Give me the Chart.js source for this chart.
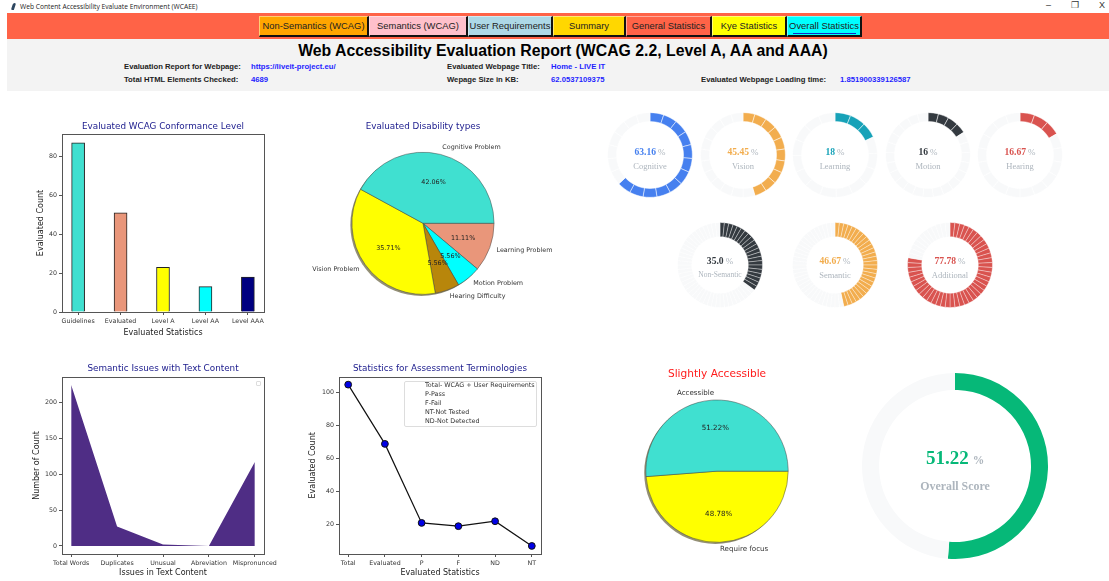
<!DOCTYPE html>
<html>
<head>
<meta charset="utf-8">
<title>Web Accessibility Evaluation Report</title>
<script src="https://cdn.jsdelivr.net/npm/chart.js@4/dist/chart.umd.min.js"></script>
<style>
    html, body { margin: 0; padding: 0; background: #fff; overflow: hidden; }
    #page { position: relative; width: 1109px; height: 581px; overflow: hidden; font-family: "Liberation Sans", Arial, sans-serif; }
    #page > * { position: absolute; }
    canvas { position: absolute; }

    .winTitle { left: 20px; top: 2px; font: 6.7px/10px "Open Sans", "Noto Sans", sans-serif; color: #222; white-space: nowrap; }
    .winIcon { left: 12px; top: 3px; width: 3px; height: 7px; background: #2d4660; border-radius: 2px 2px 0 2px; transform: skewX(-18deg); }
    .winBtn { top: 0; font: 9px/11px "Liberation Sans", sans-serif; color: #333; }

    #topbar { left: 7px; top: 13px; width: 1102px; height: 26px; background: #ff6347; }
    #infoBand { left: 7px; top: 39px; width: 1102px; height: 52px; background: #f3f3f3; }
    .navBtn { top: 16px; height: 17px; padding-top: 1px; box-sizing: content-box; font-size: 9.4px; line-height: 16px; color: #222; text-align: center; white-space: nowrap;
        border-style: solid; border-width: 1px 2px 2px 1px; border-color: rgba(255,255,255,.45) #111 #111 rgba(255,255,255,.45); }
    #mainTitle { left: 7px; width: 1112px; top: 41px; font-weight: bold; font-size: 15.8px; line-height: 20px; text-align: center; color: #000; white-space: nowrap; }
    .infoLabel, .infoValue { font-weight: bold; line-height: 10px; white-space: nowrap; }
    .infoLabel { color: #222; font-size: 7.7px; }
    .infoValue { color: #1f1fff; font-size: 7.7px; }

    .ringText { width: 90px; text-align: center; font-family: "Liberation Serif", serif; white-space: nowrap; }
    .ringText b { font-size: 9.6px; }
    .ringText .pct { font-size: 9px; color: #adb5bd; margin-left: 2px; }
    .ringText .lbl { font-size: 8.5px; color: #adb5bd; display: block; margin-top: 3.6px; line-height: 10px; }
    .ringText div { line-height: 10px; }

    #lineLegend { left: 404px; top: 381px; width: 133px; height: 46px; box-sizing: border-box; border: 1px solid #ddd; border-radius: 2px; background: #fff;
        padding: 0 0 0 20px; font: 6.4px/9px "DejaVu Sans", sans-serif; color: #333; z-index: 3; white-space: nowrap; }
    #lineLegend div { margin-top: -1px; }
    #areaLegend { left: 256px; top: 381px; width: 5px; height: 5px; box-sizing: border-box; border: 1px solid #ddd; border-radius: 1px; z-index: 3; }
</style>
</head>
<body>
<div id="page"></div>
<script>
// ---- report data ----
const navNames = ['Non-Semantics (WCAG)', 'Semantics (WCAG)', 'User Requirements', 'Summary', 'General Statistics', 'Kye Statistics', 'Overall Statistics'];
const navColors = ['#ffa500', '#ffc0cb', '#add8e6', '#ffd700', '#ff6347', '#ffff00', '#00ffff'];
const navEdges = [259, 369, 468, 553, 626, 712, 787, 862];

const levelNames = ['Guidelines', 'Evaluated', 'Level A', 'Level AA', 'Level AAA'];
const levelCounts = [87, 51, 23, 13, 18];
const levelColors = ['#40e0d0', '#e9967a', '#ffff00', '#00ffff', '#000080'];

const disabilityNames = ['Learning Problem', 'Motion Problem', 'Hearing Difficulty', 'Vision Problem', 'Cognitive Problem'];
const disabilityShares = [11.11, 5.56, 5.56, 35.71, 42.06];
const disabilityColors = ['#e9967a', '#00ffff', '#b8860b', '#ffff00', '#40e0d0'];

const textIssueNames = ['Total Words', 'Duplicates', 'Unusual', 'Abreviation', 'Mispronunced'];
const textIssueCounts = [224, 27, 2, 0, 117];

const termNames = ['Total', 'Evaluated', 'P', 'F', 'ND', 'NT'];
const termCounts = [105, 69, 21, 19, 22, 7];
const termLegend = ['Total- WCAG + User Requirements', 'P-Pass', 'F-Fail', 'NT-Not Tested', 'ND-Not Detected'];

const scoreNames = ['Require focus', 'Accessible'];
const scoreShares = [48.78, 51.22];
const scoreColors = ['#ffff00', '#40e0d0'];

const ringNames = ['Cognitive', 'Vision', 'Learning', 'Motion', 'Hearing', 'Non-Semantic', 'Semantic', 'Additional'];
const ringScores = ['63.16', '45.45', '18', '16', '16.67', '35.0', '46.67', '77.78'];
const ringFilled = [12, 10, 3, 4, 3, 21, 28, 42];
const ringSegments = [19, 22, 16, 25, 18, 60, 60, 54];
const ringColors = ['#4680ef', '#f2ad4e', '#17a2b8', '#343a40', '#d9534f', '#343a40', '#f2ad4e', '#d9534f'];
const ringCentersX = [650, 743, 835, 928, 1020, 720, 835, 950];
const ringCentersY = [155, 155, 155, 155, 155, 265, 265, 265];
const ringCutouts = [33.5, 33.5, 33.5, 33.5, 33.5, 28.3, 28.3, 28.3];
const ringGaps = [0.5, 0.5, 0.5, 0.5, 0.5, 0.35, 0.35, 0.35];

const overallScore = 51.22;

// ---- small dom helpers ----
const page = document.getElementById('page');

function addEl(cls, left, top, html) {
    const el = document.createElement('div');
    el.className = cls;
    if (left !== null) el.style.left = left + 'px';
    if (top !== null) el.style.top = top + 'px';
    el.innerHTML = html;
    page.appendChild(el);
    return el;
}

function addCanvas(left, top, w, h) {
    const c = document.createElement('canvas');
    c.width = w;
    c.height = h;
    c.style.cssText = `left:${left}px;top:${top}px;width:${w}px;height:${h}px`;
    page.appendChild(c);
    return c;
}

// ---- header ----
addEl('winIcon', null, null, '');
addEl('winTitle', null, null, 'Web Content Accessibility Evaluate Environment (WCAEE)');
addEl('winBtn', 1046, 0, '&ndash;');
addEl('winBtn', 1071, 0, '&#10064;');
addEl('winBtn', 1099, 0, 'X');

page.insertAdjacentHTML('beforeend', '<div id="topbar"></div><div id="infoBand"></div>');
navNames.forEach((name, i) => {
    const el = addEl('navBtn', navEdges[i], null, name);
    el.style.width = (navEdges[i + 1] - navEdges[i] - 3) + 'px';
    el.style.background = navColors[i];
});
const focusLine = addEl('', 793, 33, '');
focusLine.style.cssText += 'width:63px;height:1px;background:#1428c8';

page.insertAdjacentHTML('beforeend', '<div id="mainTitle">Web Accessibility Evaluation Report (WCAG 2.2, Level A, AA and AAA)</div>');
addEl('infoLabel', 124, 62, 'Evaluation Report for Webpage:');
addEl('infoValue', 251, 62, 'https://liveit-project.eu/');
addEl('infoLabel', 447, 62, 'Evaluated Webpage Title:');
addEl('infoValue', 551, 62, 'Home - LIVE IT');
addEl('infoLabel', 124, 75, 'Total HTML Elements Checked:');
addEl('infoValue', 251, 75, '4689');
addEl('infoLabel', 447, 75, 'Wepage Size in KB:');
addEl('infoValue', 551, 75, '62.0537109375');
addEl('infoLabel', 701, 75, 'Evaluated Webpage Loading time:');
addEl('infoValue', 840, 75, '1.851900339126587');

// ---- shared chart bits ----
const plotFont = '"DejaVu Sans", sans-serif';
const edgeColor = '#555';
const tickColor = '#333';

Chart.defaults.animation = false;
Chart.defaults.responsive = false;
Chart.defaults.font.family = plotFont;

// closes the plot box on all four sides
const boxFrame = {
    id: 'boxFrame',
    afterDatasetsDraw(chart) {
        const { left, top, width, height } = chart.chartArea;
        const ctx = chart.ctx;
        ctx.save();
        ctx.strokeStyle = edgeColor;
        ctx.lineWidth = 1;
        ctx.strokeRect(Math.round(left) + .5, Math.round(top) + .5, Math.round(width), Math.round(height));
        ctx.restore();
    }
};

function axisLinear(extra) {
    return Object.assign({
        type: 'linear',
        offset: false,
        border: { display: false },
        grid: { offset: false, drawOnChartArea: false, drawTicks: true, tickLength: 3, color: edgeColor },
    }, extra);
}

function axisOptions(frame, xNames, xRange, yRange, xTitle, yTitle) {
    return {
        x: axisLinear({
            min: xRange[0], max: xRange[1],
            afterFit: s => { s.height = frame.xHeight; },
            ticks: {
                stepSize: 1, includeBounds: false, autoSkip: false, maxRotation: 0, padding: frame.xTickPad,
                color: tickColor, font: { size: 6.3 },
                callback: v => xNames[v]
            },
            title: { display: true, text: xTitle, color: '#222', font: { size: 8, lineHeight: 1.2 }, padding: { top: frame.xTitlePad, bottom: 0 } }
        }),
        y: axisLinear({
            min: yRange[0], max: yRange[1],
            afterFit: s => { s.width = frame.yWidth; },
            ticks: { stepSize: yRange[2], includeBounds: false, padding: 2, color: tickColor, font: { size: 6.3 } },
            title: { display: true, text: yTitle, color: '#222', font: { size: 8, lineHeight: 1.2 }, padding: { top: frame.yTitlePad, bottom: 0 } }
        })
    };
}

function plotLayout(frame) {
    return { autoPadding: false, padding: { left: 0, top: 0, right: frame.right, bottom: 0 } };
}

function plotTitle(text, frame) {
    return {
        display: true, text, fullSize: false, color: '#1a1a8c',
        font: { size: 8.8, weight: 'normal', lineHeight: 1.2 },
        padding: { top: frame.titleTop, bottom: frame.titleBottom }
    };
}

function xyPoints(values) {
    const pts = [];
    values.forEach((v, i) => pts.push({ x: i, y: v }));
    return pts;
}

// ---- conformance level bars ----
const barFrame = { right: 20, yWidth: 32, xHeight: 26, xTickPad: 3, xTitlePad: 5, yTitlePad: 6, titleTop: 3.4, titleBottom: 2 };
new Chart(addCanvas(30, 118, 254, 220), {
    type: 'bar',
    data: {
        datasets: [{
            data: xyPoints(levelCounts),
            backgroundColor: levelColors,
            borderColor: '#222',
            borderWidth: 1,
            barThickness: 13
        }]
    },
    options: {
        layout: plotLayout(barFrame),
        plugins: { legend: { display: false }, title: plotTitle('Evaluated WCAG Conformance Level', barFrame) },
        scales: axisOptions(barFrame, levelNames, [-0.38, 4.38], [0, 91.5, 20], 'Evaluated Statistics', 'Evaluated Count')
    },
    plugins: [boxFrame]
});

// ---- text content issues, filled area ----
const areaFrame = { right: 21, yWidth: 32, xHeight: 24, xTickPad: 3, xTitlePad: 0.3, yTitlePad: 2, titleTop: 2.4, titleBottom: 3 };
new Chart(addCanvas(30, 361, 255, 217), {
    type: 'line',
    data: {
        datasets: [{
            data: xyPoints(textIssueCounts),
            fill: 'origin',
            tension: 0,
            pointRadius: 0,
            borderWidth: 0,
            backgroundColor: '#4f2d85'
        }]
    },
    options: {
        layout: plotLayout(areaFrame),
        plugins: { legend: { display: false }, title: plotTitle('Semantic Issues with Text Content', areaFrame) },
        scales: axisOptions(areaFrame, textIssueNames, [-0.2, 4.2], [-11.2, 235.2, 50], 'Issues in Text Content', 'Number of Count')
    },
    plugins: [boxFrame]
});
addEl('', null, null, '').id = 'areaLegend';

// ---- assessment terminology line ----
const lineFrame = { right: 10, yWidth: 33, xHeight: 24, xTickPad: 3, xTitlePad: 0.3, yTitlePad: 2.6, titleTop: 2.4, titleBottom: 2.6 };
new Chart(addCanvas(306, 361, 245, 217), {
    type: 'line',
    data: {
        datasets: [{
            data: xyPoints(termCounts),
            tension: 0,
            borderColor: '#111',
            borderWidth: 1.2,
            pointRadius: 3.4,
            pointBackgroundColor: '#0000e6',
            pointBorderColor: '#111',
            pointBorderWidth: 1
        }]
    },
    options: {
        layout: plotLayout(lineFrame),
        plugins: { legend: { display: false }, title: plotTitle('Statistics for Assessment Terminologies', lineFrame) },
        scales: axisOptions(lineFrame, termNames, [-0.25, 5.25], [2.1, 109.9, 20], 'Evaluated Statistics', 'Evaluated Count')
    },
    plugins: [boxFrame]
});
addEl('', null, null, '<div>' + termLegend.join('<br>') + '</div>').id = 'lineLegend';

// ---- pies ----
// drop shadow under the pie, then slice labels at 1.1r and percentages at 0.6r
const pieDecor = {
    id: 'pieDecor',
    beforeDatasetsDraw(chart) {
        const arc = chart.getDatasetMeta(0).data[0];
        const ctx = chart.ctx;
        ctx.save();
        ctx.fillStyle = 'rgba(90,85,45,.65)';
        ctx.beginPath();
        ctx.arc(arc.x - 1.6, arc.y + 1.6, arc.outerRadius, 0, Math.PI * 2);
        ctx.fill();
        ctx.restore();
    },
    afterDatasetsDraw(chart, args, opts) {
        const ctx = chart.ctx;
        const values = chart.data.datasets[0].data;
        ctx.save();
        ctx.font = opts.textSize + 'px ' + plotFont;
        ctx.textBaseline = 'middle';
        chart.getDatasetMeta(0).data.forEach((arc, i) => {
            const mid = (arc.startAngle + arc.endAngle) / 2;
            const cos = Math.cos(mid), sin = Math.sin(mid);
            const r = arc.outerRadius;
            ctx.fillStyle = '#333';
            ctx.textAlign = cos >= 0 ? 'left' : 'right';
            ctx.fillText(chart.data.labels[i], arc.x + cos * r * 1.1, arc.y + sin * r * 1.1);
            ctx.fillStyle = '#222';
            ctx.textAlign = 'center';
            ctx.fillText(values[i].toFixed(2) + '%', arc.x + cos * r * 0.6, arc.y + sin * r * 0.6);
        });
        ctx.restore();
    }
};

function pieConfig(labels, values, colors, title, titleColor, titleSize, pad) {
    return {
        type: 'pie',
        data: { labels, datasets: [{ data: values, backgroundColor: colors, borderColor: '#444', borderWidth: 0.5 }] },
        options: {
            rotation: 90,
            layout: { autoPadding: false, padding: { top: 0, bottom: pad.bottom, left: 0, right: 0 } },
            plugins: {
                legend: { display: false },
                tooltip: { enabled: false },
                pieDecor: { textSize: pad.textSize },
                title: {
                    display: true, text: title, color: titleColor,
                    font: { size: titleSize, weight: 'normal', lineHeight: 1.2 },
                    padding: { top: pad.titleTop, bottom: pad.titleBottom }
                }
            }
        },
        plugins: [pieDecor]
    };
}

new Chart(addCanvas(283, 118, 280, 192), pieConfig(disabilityNames, disabilityShares, disabilityColors,
    'Evaluated Disability types', '#1a1a8c', 8.8, { titleTop: 3.4, titleBottom: 20, bottom: 15.4, textSize: 6.4 }));

new Chart(addCanvas(597, 366, 240, 194), pieConfig(scoreNames, scoreShares, scoreColors,
    'Slightly Accessible', '#ff1a1a', 10.6, { titleTop: 1.7, titleBottom: 19.3, bottom: 17.4, textSize: 7.1 }));

// ---- progress rings, filled segments share the stated score ----
ringNames.forEach((name, i) => {
    const score = parseFloat(ringScores[i]);
    const filled = ringFilled[i], rest = ringSegments[i] - filled;
    const values = [], colors = [];
    for (let s = 0; s < filled; s++) { values.push(score / filled); colors.push(ringColors[i]); }
    for (let s = 0; s < rest; s++) { values.push((100 - score) / rest); colors.push('#f8f9fa'); }

    const cx = ringCentersX[i], cy = ringCentersY[i];
    new Chart(addCanvas(cx - 43, cy - 43, 86, 86), {
        type: 'doughnut',
        data: { datasets: [{ data: values, backgroundColor: colors, borderColor: '#fff', borderWidth: ringGaps[i], borderJoinStyle: 'bevel' }] },
        options: {
            cutout: ringCutouts[i],
            layout: { autoPadding: false, padding: 0.4 },
            plugins: { legend: { display: false }, tooltip: { enabled: false } }
        }
    });

    const labelSize = name.length > 10 ? ' style="font-size:7.5px"' : '';
    const shown = `<div><b style="color:${ringColors[i]}">${ringScores[i]}</b><span class="pct">%</span></div><span class="lbl"${labelSize}>${name}</span>`;
    addEl('ringText', cx - 45, cy - (i < 5 ? 10 : 11), shown);
});

// big overall score ring
new Chart(addCanvas(862, 373, 186, 186), {
    type: 'doughnut',
    data: { datasets: [{ data: [overallScore, 100 - overallScore], backgroundColor: ['#06b878', '#f8f9fa'], borderWidth: 0 }] },
    options: {
        cutout: 76,
        layout: { autoPadding: false },
        plugins: { legend: { display: false }, tooltip: { enabled: false } }
    }
});
addEl('ringText', 910, 447, `<div style="line-height:22px"><b style="color:#06b878;font-size:19px">${overallScore}</b><span class="pct" style="font-size:11.5px;font-weight:bold;margin-left:4px">%</span></div>`
    + `<span class="lbl" style="font-size:11.9px;font-weight:bold;line-height:14px;margin-top:8px">Overall Score</span>`);
</script>
</body>
</html>
